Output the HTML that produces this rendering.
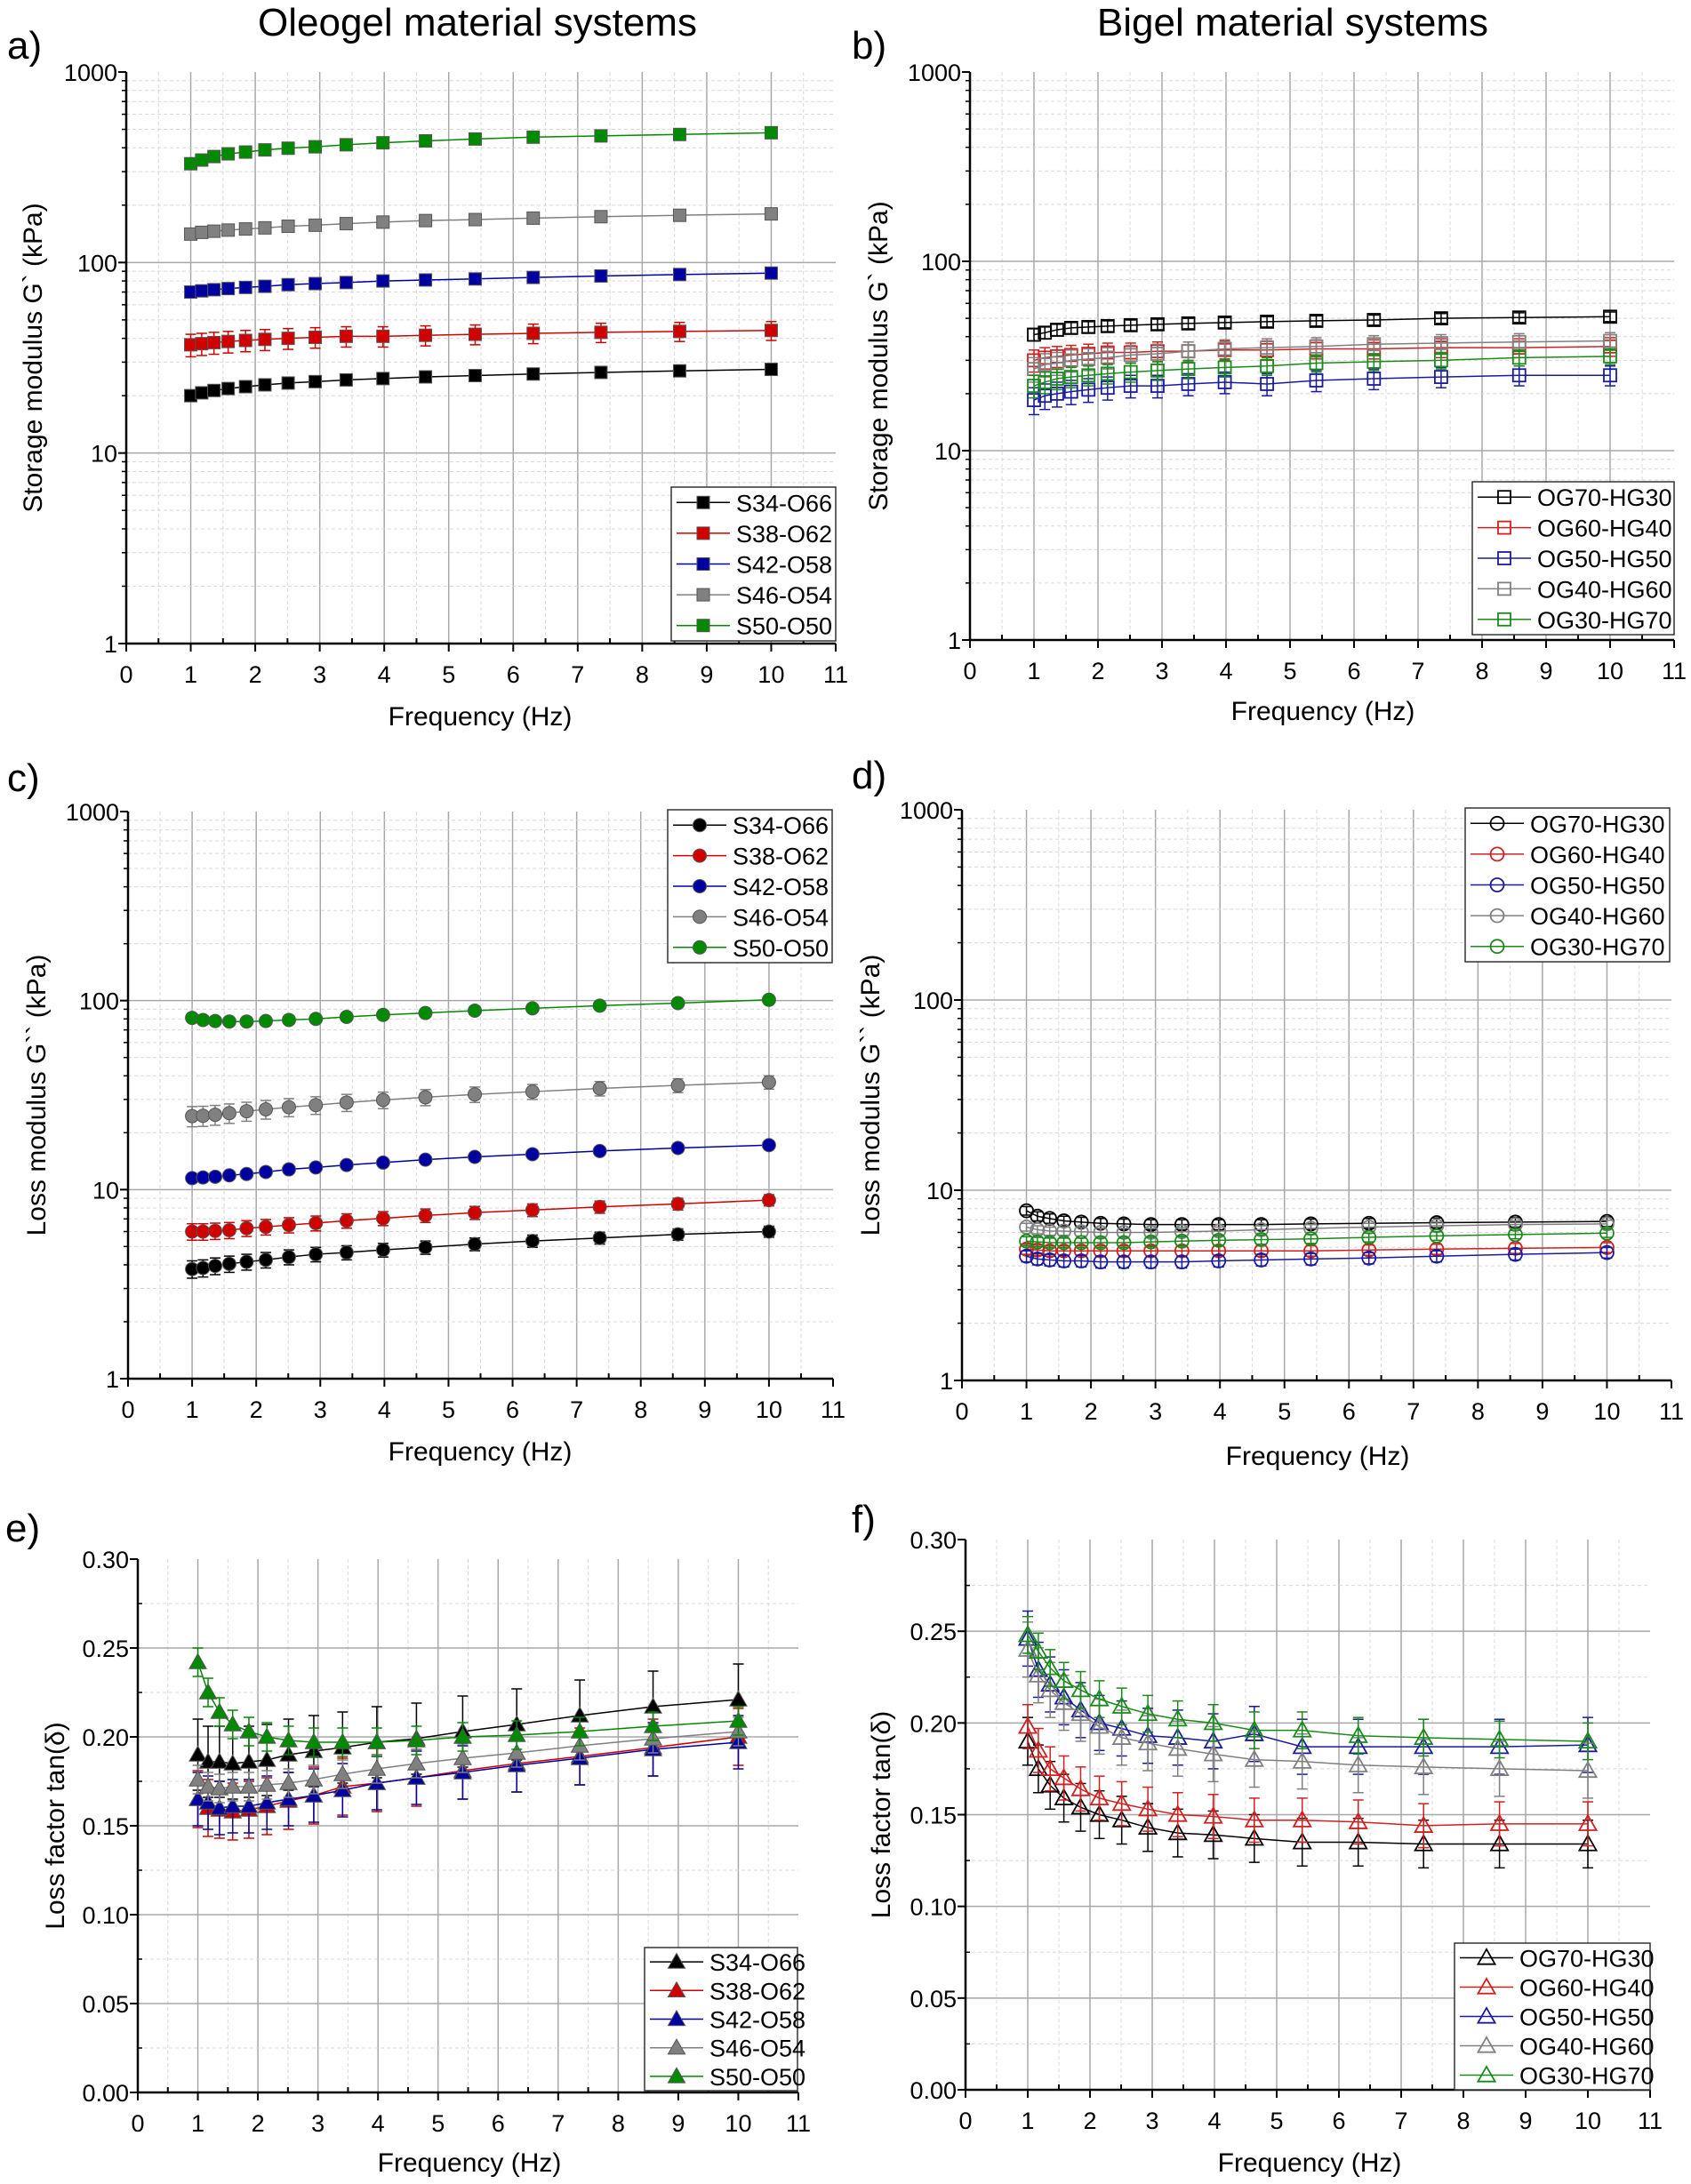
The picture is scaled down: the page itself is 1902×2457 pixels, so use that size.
<!DOCTYPE html>
<html><head><meta charset="utf-8">
<style>
html,body{margin:0;padding:0;background:#fff;}
svg{display:block;font-family:"Liberation Sans",Arial,sans-serif;}
</style></head>
<body>
<svg id="fig" width="1902" height="2457" viewBox="0 0 1902 2457" xmlns="http://www.w3.org/2000/svg">
<rect width="1902" height="2457" fill="#fff"/>
<text x="537" y="40" font-size="44" text-anchor="middle">Oleogel material systems</text>
<text x="1454" y="40" font-size="44" text-anchor="middle">Bigel material systems</text>
<text x="8" y="66" font-size="44">a)</text>
<text x="958" y="66" font-size="44">b)</text>
<text x="8" y="890" font-size="44">c)</text>
<text x="958" y="887" font-size="44">d)</text>
<text x="6" y="1734" font-size="44">e)</text>
<text x="958" y="1724" font-size="44">f)</text>
</svg>
<script>
const freq = [1,1.17,1.36,1.58,1.85,2.15,2.51,2.93,3.41,3.98,4.64,5.41,6.31,7.36,8.58,10];
const xTicks = [0,1,2,3,4,5,6,7,8,9,10,11];
const logTicks = [1,10,100,1000];
const tanTicks = [0,0.05,0.10,0.15,0.20,0.25,0.30];
const tanTickLabels = ["0.00","0.05","0.10","0.15","0.20","0.25","0.30"];
const oleoNames = ["S34-O66","S38-O62","S42-O58","S46-O54","S50-O50"];
const bigelNames = ["OG70-HG30","OG60-HG40","OG50-HG50","OG40-HG60","OG30-HG70"];
const oleoColors = ["#000000","#d00000","#0000a0","#808080","#008a00"];
const bigelColors = ["#000000","#d02020","#1a1aa0","#808080","#1a8a1a"];

// Panel a: storage modulus, oleogels
const aS34 = [20,20.7,21.3,21.8,22.3,22.8,23.3,23.7,24.2,24.6,25.1,25.5,26,26.5,27,27.5];
const aS38 = [37,37.5,38,38.5,39,39.5,40,40.5,41,41,41.5,42,42.5,43,43.5,44];
const aS42 = [70,71,72,73,74,75,76.5,77.5,78.5,80,81,82,83.5,85,86.5,88];
const aS46 = [141,144,146,148,150,152,155,157,160,163,166,168,171,174,177,180];
const aS50 = [330,345,360,372,380,390,398,405,415,425,435,445,455,462,470,480];
const aErr = [1,5,2,3,10];
// Panel b: storage modulus, bigels
const bOG70 = [41,42,43.5,44.5,45,45.5,46,46.5,47,47.5,48,48.5,49,50,50.5,51];
const bOG60 = [30,31,31.5,32,32.5,33,33,33.5,33.5,34,34,34.5,34.5,35,35,35.5];
const bOG50 = [18.5,19.5,20,20.5,21,21.5,22,22,22.5,23,22.5,23.5,24,24.5,25,25];
const bOG40 = [27,28.5,29,30,30.5,31,32,32.5,33.5,34.5,35,35.5,36.5,37,37.5,38];
const bOG30 = [22,23,24,24.5,25,25.5,26,26.5,27,27.5,28,29,29.5,30,31,31.5];
const bErr = [3,4,3,4,3];
// Panel c: loss modulus, oleogels
const cS34 = [3.8,3.85,3.95,4.05,4.15,4.25,4.4,4.55,4.65,4.8,4.95,5.15,5.35,5.55,5.8,6.0];
const cS38 = [6.0,6.0,6.05,6.1,6.25,6.35,6.5,6.65,6.85,7.05,7.3,7.55,7.8,8.1,8.4,8.8];
const cS42 = [11.5,11.6,11.7,11.9,12.1,12.4,12.8,13.1,13.5,13.9,14.4,14.9,15.4,16,16.6,17.2];
const cS46 = [24.5,24.6,24.9,25.4,26,26.6,27.3,28,28.9,29.8,30.8,31.9,33,34.3,35.6,37];
const cS50 = [81,79,78,77.5,77.5,78,79,80,82,84,86,88.5,91,94,97,101];
const cErr = [0.4,0.6,0.3,3,1];
// Panel d: loss modulus, bigels
const dOG70 = [7.8,7.3,7.1,6.9,6.8,6.7,6.65,6.6,6.6,6.6,6.6,6.65,6.7,6.75,6.8,6.85];
const dOG60 = [4.9,4.85,4.8,4.8,4.8,4.8,4.8,4.8,4.8,4.8,4.8,4.8,4.85,4.9,4.95,5.0];
const dOG50 = [4.5,4.35,4.3,4.25,4.25,4.2,4.2,4.2,4.2,4.25,4.3,4.35,4.4,4.5,4.6,4.7];
const dOG40 = [6.4,6.2,6.1,6.1,6.05,6.0,6.0,6.0,6.05,6.1,6.2,6.3,6.4,6.5,6.6,6.65];
const dOG30 = [5.4,5.35,5.3,5.3,5.3,5.3,5.3,5.35,5.4,5.45,5.5,5.55,5.65,5.75,5.85,5.95];
const dErr = [0.4,0.3,0.3,0.3,0.3];
// Panel e: loss factor, oleogels
const eS34 = [.190,.186,.186,.185,.186,.187,.190,.192,.194,.197,.199,.203,.207,.212,.217,.221];
const eS38 = [.165,.160,.159,.158,.159,.161,.164,.167,.172,.174,.177,.181,.185,.189,.194,.200];
const eS42 = [.165,.163,.160,.161,.161,.163,.165,.167,.170,.174,.177,.180,.184,.188,.193,.197];
const eS46 = [.176,.172,.171,.172,.172,.173,.174,.176,.179,.182,.185,.188,.191,.195,.199,.203];
const eS50 = [.242,.225,.214,.207,.203,.200,.198,.197,.197,.197,.198,.200,.201,.203,.206,.209];
const eErr = [0.02,0.016,0.015,0.008,0.008];
// Panel f: loss factor, bigels
const fOG70 = [.190,.175,.166,.159,.154,.150,.147,.143,.140,.139,.137,.135,.135,.134,.134,.134];
const fOG60 = [.198,.185,.175,.170,.164,.159,.156,.153,.150,.149,.147,.147,.146,.144,.145,.145];
const fOG50 = [.246,.229,.221,.214,.207,.200,.197,.193,.192,.190,.194,.187,.187,.187,.187,.188];
const fOG40 = [.240,.226,.218,.211,.205,.198,.192,.189,.186,.183,.180,.179,.177,.176,.175,.174];
const fOG30 = [.248,.239,.230,.223,.218,.213,.209,.205,.202,.200,.196,.196,.193,.192,.191,.190];
const fErr = [0.013,0.012,0.015,0.015,0.01];

const NS = "http://www.w3.org/2000/svg";
const svg = document.getElementById("fig");
function mk(tag, attrs, parent){ const e=document.createElementNS(NS,tag); for(const k in attrs) e.setAttribute(k,attrs[k]); (parent||svg).appendChild(e); return e; }

function marker(g, shape, filled, color, cx, cy, s){
  let el;
  const fill = filled ? color : "none";
  const sw = filled ? 1 : 1.8;
  if(shape==="square") el = mk("rect",{x:cx-s/2,y:cy-s/2,width:s,height:s,fill:fill,stroke:filled?"#555":color,"stroke-width":sw},g);
  else if(shape==="circle") el = mk("circle",{cx:cx,cy:cy,r:s/2,fill:fill,stroke:filled?"#555":color,"stroke-width":sw},g);
  else el = mk("polygon",{points:`${cx},${cy-s*0.6} ${cx-s*0.6},${cy+s*0.45} ${cx+s*0.6},${cy+s*0.45}`,fill:fill,stroke:filled?"#555":color,"stroke-width":sw},g);
  return el;
}

function panel(cfg){
  const g = mk("g",{});
  
  
  const X = v => cfg.x0 + (cfg.x1-cfg.x0)*v/11;
  const Y = cfg.log ? (v => cfg.yb + (cfg.yt-cfg.yb)*Math.log10(v)/3) : (v => cfg.yb + (cfg.yt-cfg.yb)*v/0.30);
  for(let i=0.5;i<11;i+=0.5){
    const major = Math.abs(i-Math.round(i))<1e-6;
    mk("line",{x1:X(i),x2:X(i),y1:cfg.yt,y2:cfg.yb,stroke:major?"#a8a8a8":"#d8d8d8","stroke-width":major?1.5:1,"stroke-dasharray":major?"":"4,3"},g);
  }
  if(cfg.log){
    for(let d=0; d<3; d++){
      for(let m=2;m<=9;m++){ const v=Math.pow(10,d)*m; mk("line",{x1:cfg.x0,x2:cfg.x1,y1:Y(v),y2:Y(v),stroke:"#d8d8d8","stroke-width":1,"stroke-dasharray":"4,3"},g); }
    }
    [10,100].forEach(v=>mk("line",{x1:cfg.x0,x2:cfg.x1,y1:Y(v),y2:Y(v),stroke:"#a8a8a8","stroke-width":1.5},g));
  } else {
    for(let k=1;k<12;k++){ const v=k*0.025; const major=k%2===0;
      mk("line",{x1:cfg.x0,x2:cfg.x1,y1:Y(v),y2:Y(v),stroke:major?"#a8a8a8":"#d8d8d8","stroke-width":major?1.5:1,"stroke-dasharray":major?"":"4,3"},g); }
  }
  mk("line",{x1:cfg.x0,x2:cfg.x0,y1:cfg.yt,y2:cfg.yb+1,stroke:"#000","stroke-width":2.5},g);
  mk("line",{x1:cfg.x0-1,x2:cfg.x1,y1:cfg.yb,y2:cfg.yb,stroke:"#000","stroke-width":2.5},g);
  xTicks.forEach(t=>{
    mk("line",{x1:X(t),x2:X(t),y1:cfg.yb,y2:cfg.yb+9,stroke:"#000","stroke-width":2},g);
    if(t<11) mk("line",{x1:X(t+0.5),x2:X(t+0.5),y1:cfg.yb,y2:cfg.yb-6,stroke:"#000","stroke-width":2},g);
    const tl = mk("text",{x:X(t),y:cfg.yb+44,"font-size":27,"text-anchor":"middle"},g);
    
    
    tl.textContent = t;
  });
  if(cfg.log){
    logTicks.forEach(t=>{
      mk("line",{x1:cfg.x0-9,x2:cfg.x0,y1:Y(t),y2:Y(t),stroke:"#000","stroke-width":2},g);
      const tl = mk("text",{x:cfg.x0-10,y:Y(t)+10,"font-size":27,"text-anchor":"end"},g);
      
      
      tl.textContent = t;
    });
    for(let d=0;d<3;d++) for(let m=2;m<=9;m++){ const v=Math.pow(10,d)*m; mk("line",{x1:cfg.x0-5,x2:cfg.x0,y1:Y(v),y2:Y(v),stroke:"#000","stroke-width":1.5},g); }
  } else {
    tanTicks.forEach((t,i)=>{
      mk("line",{x1:cfg.x0-9,x2:cfg.x0,y1:Y(t),y2:Y(t),stroke:"#000","stroke-width":2},g);
      if(t<0.29) mk("line",{x1:cfg.x0,x2:cfg.x0+5,y1:Y(t+0.025),y2:Y(t+0.025),stroke:"#000","stroke-width":1.5},g);
      const tl = mk("text",{x:cfg.x0-10,y:Y(t)+10,"font-size":27,"text-anchor":"end"},g);
      
      
      tl.textContent = tanTickLabels[i];
    });
  }
  const xt = mk("text",{x:cfg.xtx,y:cfg.xty+11,"font-size":30,"text-anchor":"middle"},g);
  
  
  xt.textContent = "Frequency (Hz)";
  const ym = (cfg.yt+cfg.yb)/2;
  const yt = mk("text",{x:cfg.ytx,y:ym,"font-size":30,"text-anchor":"middle",transform:`rotate(-90 ${cfg.ytx} ${ym})`,dy:11},g);
  
  
  yt.textContent = cfg.ytitle;
  cfg.series.forEach((vals,si)=>{
    const sg = mk("g",{},g);
    
    
    const col = cfg.colors[si];
    const err = cfg.errs[si];
    const pts = vals.map((v,i)=>X(freq[i])+","+Y(v)).join(" ");
    mk("polyline",{points:pts,fill:"none",stroke:col,"stroke-width":1.5},sg);
    vals.forEach((v,i)=>{
      const cx=X(freq[i]);
      const lo=Y(Math.max(v-err, cfg.log?0.01:0)), hi=Y(v+err);
      mk("line",{x1:cx,x2:cx,y1:lo,y2:hi,stroke:col,"stroke-width":1.5},sg);
      mk("line",{x1:cx-6,x2:cx+6,y1:lo,y2:lo,stroke:col,"stroke-width":1.5},sg);
      mk("line",{x1:cx-6,x2:cx+6,y1:hi,y2:hi,stroke:col,"stroke-width":1.5},sg);
    });
    vals.forEach((v,i)=>{
      const m = marker(sg,cfg.shape,cfg.filled,col,X(freq[i]),Y(v),cfg.msize);
      
      
    });
  });
  const L = cfg.leg;
  const lg = mk("g",{},g);
  
  
  mk("rect",{x:L[0],y:L[1],width:L[2]-L[0],height:L[3]-L[1],fill:"#fff",stroke:"#333","stroke-width":1.5},lg);
  const pitch=(L[3]-L[1])/5;
  cfg.names.forEach((n,i)=>{
    const cy=L[1]+pitch*(i+0.5);
    const eg = mk("g",{},lg);
    
    
    mk("line",{x1:L[0]+6,x2:L[0]+66,y1:cy,y2:cy,stroke:cfg.colors[i],"stroke-width":1.5},eg);
    marker(eg,cfg.shape,cfg.filled,cfg.colors[i],L[0]+36,cy,cfg.msize);
    const t=mk("text",{x:L[0]+73,y:cy+10,"font-size":27},eg);
    t.textContent=n;
  });
}

panel({name:"panel-a-storage-oleogel",x0:142,x1:940,yt:81,yb:724,log:true,ytitle:"Storage modulus G` (kPa)",ytx:36,xtx:540,xty:805,
  series:[aS34,aS38,aS42,aS46,aS50],errs:aErr,names:oleoNames,colors:oleoColors,shape:"square",filled:true,msize:14,leg:[755,548,940,721]});
panel({name:"panel-b-storage-bigel",x0:1091,x1:1883,yt:81,yb:720,log:true,ytitle:"Storage modulus G` (kPa)",ytx:987,xtx:1488,xty:799,
  series:[bOG70,bOG60,bOG50,bOG40,bOG30],errs:bErr,names:bigelNames,colors:bigelColors,shape:"square",filled:false,msize:14,leg:[1656,542,1883,714]});
panel({name:"panel-c-loss-oleogel",x0:144,x1:937,yt:913,yb:1551,log:true,ytitle:"Loss modulus G`` (kPa)",ytx:40,xtx:540,xty:1632,
  series:[cS34,cS38,cS42,cS46,cS50],errs:cErr,names:oleoNames,colors:oleoColors,shape:"circle",filled:true,msize:15,leg:[751,911,936,1083]});
panel({name:"panel-d-loss-bigel",x0:1082,x1:1880,yt:911,yb:1553,log:true,ytitle:"Loss modulus G`` (kPa)",ytx:978,xtx:1482,xty:1637,
  series:[dOG70,dOG60,dOG50,dOG40,dOG30],errs:dErr,names:bigelNames,colors:bigelColors,shape:"circle",filled:false,msize:15,leg:[1648,909,1878,1082]});
panel({name:"panel-e-tan-oleogel",x0:155,x1:898,yt:1754,yb:2354,log:false,ytitle:"Loss factor tan(δ)",ytx:61,xtx:528,xty:2432,
  series:[eS34,eS38,eS42,eS46,eS50],errs:eErr,names:oleoNames,colors:oleoColors,shape:"triangle",filled:true,msize:16,leg:[725,2191,897,2352]});
panel({name:"panel-f-tan-bigel",x0:1086,x1:1856,yt:1732,yb:2351,log:false,ytitle:"Loss factor tan(δ)",ytx:990,xtx:1473,xty:2432,
  series:[fOG70,fOG60,fOG50,fOG40,fOG30],errs:fErr,names:bigelNames,colors:bigelColors,shape:"triangle",filled:false,msize:16,leg:[1636,2186,1856,2351]});
</script>
</body></html>
